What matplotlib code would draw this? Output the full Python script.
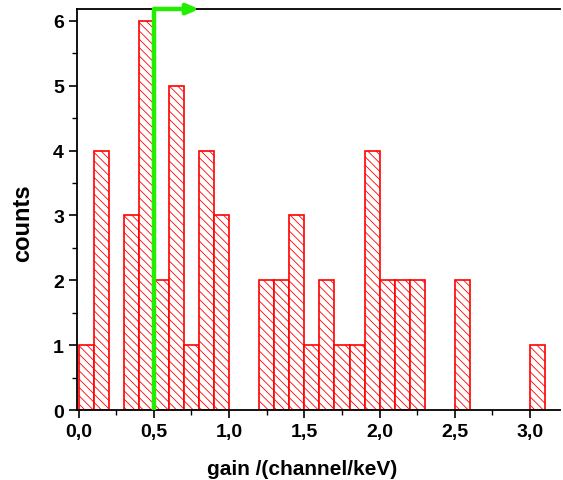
import numpy as np
import matplotlib.pyplot as plt
from matplotlib.ticker import MultipleLocator, FuncFormatter

plt.rcParams['font.family'] = ['Liberation Sans', 'DejaVu Sans']
plt.rcParams['hatch.color'] = 'red'
plt.rcParams['hatch.linewidth'] = 0.6

# bin left edges (width 0.1) and counts
bin_left = [0.0, 0.1, 0.2, 0.3, 0.4, 0.5, 0.6, 0.7, 0.8, 0.9,
            1.0, 1.1, 1.2, 1.3, 1.4, 1.5, 1.6, 1.7, 1.8, 1.9,
            2.0, 2.1, 2.2, 2.3, 2.4, 2.5, 2.6, 2.7, 2.8, 2.9, 3.0]
counts = [1, 4, 0, 3, 6, 2, 5, 1, 4, 3,
          0, 0, 2, 2, 3, 1, 2, 1, 1, 4,
          2, 2, 2, 0, 0, 2, 0, 0, 0, 0, 1]
bin_width = 0.1
marker_x = 0.5

fig = plt.figure(figsize=(5.63, 4.81), dpi=100)
ax = fig.add_axes([0.137, 0.1455, 0.858, 0.8335])

for xl, c in zip(bin_left, counts):
    if c > 0:
        ax.bar(xl, c, width=bin_width, align='edge', facecolor='white',
               edgecolor='red', linewidth=1.2, hatch='\\\\\\\\')

ax.set_xlim(-0.01, 3.2)
ax.set_ylim(0, 6.18)

# green marker line with arrow
top = 6.18
ax.plot([marker_x, marker_x, 0.72], [0, top, top], color='#22ee00', lw=3.2,
        clip_on=False, zorder=5, solid_capstyle='butt')
ax.annotate('', xy=(0.82, top), xytext=(0.70, top),
            arrowprops=dict(arrowstyle='-|>,head_length=0.7,head_width=0.3',
                            color='#22ee00', lw=3.2),
            annotation_clip=False, zorder=5)

ax.spines['right'].set_visible(False)
for s in ['left', 'bottom', 'top']:
    ax.spines[s].set_linewidth(1.3)

ax.xaxis.set_major_locator(MultipleLocator(0.5))
ax.xaxis.set_minor_locator(MultipleLocator(0.25))
ax.yaxis.set_major_locator(MultipleLocator(1))
ax.yaxis.set_minor_locator(MultipleLocator(0.5))
ax.xaxis.set_major_formatter(FuncFormatter(lambda v, p: f'{v:.1f}'.replace('.', ',')))
ax.tick_params(which='major', length=6, width=1.2, labelsize=14, top=False, right=False)
ax.tick_params(which='minor', length=3.5, width=1.0, top=False, right=False)
for lab in ax.get_xticklabels() + ax.get_yticklabels():
    lab.set_fontweight('bold')

ax.set_xlabel('gain /(channel/keV)', fontsize=15, fontweight='bold')
ax.set_ylabel('counts', fontsize=17, fontweight='bold')
ax.xaxis.set_label_coords(0.465, -0.122)
ax.yaxis.set_label_coords(-0.090, 0.469)

fig.savefig('out.png', dpi=100)
